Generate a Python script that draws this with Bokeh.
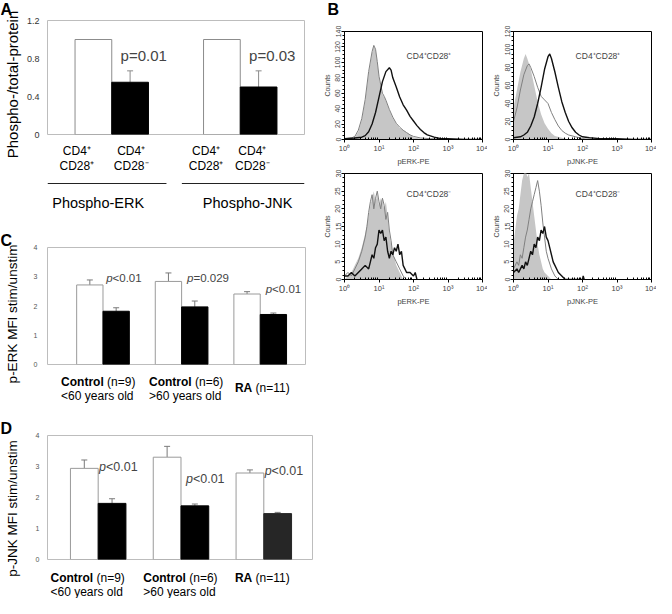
import numpy as np
from bokeh.plotting import figure
from bokeh.layouts import row, column
from bokeh.models import (Range1d, FixedTicker, SingleIntervalTicker, Label,
                          Whisker, TeeHead, ColumnDataSource)
from bokeh.embed import file_html
from bokeh.resources import INLINE
from bokeh.core.properties import value

FONT = "Liberation Sans"
DEBUG = False

# ---------------- DATA ----------------
a_groups = ["Phospho-ERK", "Phospho-JNK"]
a_subsets = ["CD4⁺\nCD28⁺", "CD4⁺\nCD28⁻"]
a_pos_vals = [1.0, 1.0]
a_neg_vals = [0.55, 0.50]
a_neg_err_top = [0.67, 0.67]
a_pvalues = ["p=0.01", "p=0.03"]
a_yticks = [0, 0.4, 0.8, 1.2]
a_ytick_labels = ["0", "0.4", "0.8", "1.2"]

cd_bold = ["Control", "Control", "RA"]
cd_n = ["(n=9)", "(n=6)", "(n=11)"]
cd_age = ["<60 years old", ">60 years old", ""]

c_white = [2.72, 2.84, 2.41]
c_white_err = [2.89, 3.13, 2.49]
c_black = [1.82, 1.97, 1.71]
c_black_err = [1.94, 2.17, 1.76]
c_p = ["<0.01", "=0.029", "<0.01"]

d_white = [2.94, 3.30, 2.79]
d_white_err = [3.21, 3.65, 2.89]
d_black = [1.81, 1.73, 1.48]
d_black_err = [1.96, 1.79, 1.52]
d_p = ["<0.01", "<0.01", "<0.01"]

y_labels = ["Phospho-/total-protein", "p-ERK MFI stim/unstim", "p-JNK MFI stim/unstim"]
panel_letters = ["A", "B", "C", "D"]

decades = [1, 10, 100, 1000, 10000]
decade_labels = ["10⁰", "10¹", "10²", "10³", "10⁴"]

b1_fill_lx = [0.0, 0.2, 0.3, 0.4, 0.5, 0.6, 0.7, 0.8, 0.85, 0.9, 0.95, 1.0, 1.1, 1.15, 1.2, 1.3, 1.4, 1.5, 1.6, 1.7, 1.8, 1.9, 2.0, 2.2, 2.5]
b1_fill_y = [0, 1, 3, 10, 25, 50, 85, 112, 121, 116, 100, 80, 58, 55, 50, 38, 28, 20, 15, 12, 9, 6, 3, 1, 0]
b1_gray_lx = [0.0, 0.2, 0.3, 0.4, 0.5, 0.6, 0.7, 0.8, 0.85, 0.9, 0.95, 1.0, 1.1, 1.15, 1.2, 1.3, 1.4, 1.5, 1.6, 1.7, 1.8, 1.9, 2.0, 2.2, 2.5, 3.0, 4.0]
b1_gray_y = [1, 2, 4, 12, 27, 52, 88, 114, 122, 117, 101, 82, 60, 56, 51, 39, 29, 21, 16, 12, 9, 6, 4, 2, 1, 0, 0]
b1_black_lx = [0.0, 0.3, 0.5, 0.6, 0.7, 0.8, 0.9, 1.0, 1.1, 1.2, 1.3, 1.35, 1.4, 1.5, 1.6, 1.7, 1.8, 1.9, 2.0, 2.1, 2.2, 2.3, 2.4, 2.6, 2.8, 3.0, 3.5, 4.0]
b1_black_y = [1, 2, 3, 5, 10, 20, 35, 55, 75, 88, 93, 90, 80, 68, 55, 45, 38, 30, 24, 18, 13, 9, 6, 3, 1, 1, 0, 0]

b2_fill_lx = [0.0, 0.1, 0.2, 0.3, 0.35, 0.4, 0.5, 0.6, 0.7, 0.8, 0.9, 1.0, 1.1, 1.2, 1.4, 1.6]
b2_fill_y = [35, 55, 75, 90, 95, 90, 78, 60, 42, 28, 18, 12, 7, 4, 2, 0]
b2_gray_lx = [0.0, 0.1, 0.2, 0.3, 0.4, 0.45, 0.5, 0.6, 0.7, 0.8, 0.9, 1.0, 1.1, 1.2, 1.3, 1.4, 1.5, 1.6, 1.8, 2.0, 2.2, 3.0, 4.0]
b2_gray_y = [20, 35, 55, 72, 82, 84, 80, 70, 58, 48, 44, 40, 30, 22, 15, 10, 7, 5, 3, 1, 0, 0, 0]
b2_black_lx = [0.0, 0.2, 0.3, 0.4, 0.5, 0.6, 0.7, 0.8, 0.9, 1.0, 1.05, 1.1, 1.2, 1.3, 1.4, 1.5, 1.6, 1.7, 1.8, 1.9, 2.0, 2.2, 2.5, 3.0, 3.5, 4.0]
b2_black_y = [2, 3, 5, 8, 15, 25, 40, 58, 78, 92, 95, 90, 75, 58, 42, 30, 20, 13, 8, 5, 3, 2, 1, 1, 0, 0]

b3_fill_lx = [0.0, 0.1, 0.2, 0.3, 0.4, 0.5, 0.6, 0.7, 0.75, 0.8, 0.85, 0.9, 0.95, 1.0, 1.05, 1.1, 1.15, 1.2, 1.25, 1.3, 1.35, 1.4, 1.5, 1.6, 1.7]
b3_fill_y = [0, 1, 2, 4, 6, 9, 13, 18, 21, 23, 25, 22, 24, 21, 23, 22, 20, 22, 18, 13, 10, 8, 4, 2, 0]
b3_gray_lx = [0.0, 0.1, 0.2, 0.3, 0.4, 0.5, 0.6, 0.65, 0.7, 0.75, 0.8, 0.85, 0.9, 0.95, 1.0, 1.05, 1.1, 1.15, 1.2, 1.25, 1.3, 1.35, 1.4, 1.5, 1.6, 1.7, 1.8]
b3_gray_y = [1, 2, 1, 3, 5, 8, 12, 15, 19, 22, 24, 20, 23, 25, 22, 20, 23, 21, 17, 19, 14, 11, 7, 5, 3, 1, 0]
b3_black_lx = [0.0, 0.1, 0.2, 0.3, 0.4, 0.5, 0.6, 0.7, 0.75, 0.8, 0.85, 0.9, 0.95, 1.0, 1.05, 1.1, 1.15, 1.2, 1.25, 1.3, 1.35, 1.4, 1.45, 1.5, 1.55, 1.6, 1.65, 1.7, 1.75, 1.8, 1.9, 2.0, 2.05, 2.1]
b3_black_y = [1, 1, 2, 1, 2, 3, 4, 3, 5, 7, 6, 9, 10, 14, 13, 14, 11, 12, 8, 6, 8, 7, 9, 8, 10, 7, 8, 4, 3, 2, 2, 1, 2, 0]

b4_fill_lx = [0.0, 0.05, 0.1, 0.15, 0.2, 0.25, 0.3, 0.35, 0.4, 0.45, 0.5, 0.55, 0.6, 0.65, 0.7, 0.75, 0.8, 0.85, 0.9, 1.0, 1.1]
b4_fill_y = [10, 14, 18, 20, 24, 28, 30, 31, 29, 30, 26, 22, 18, 14, 10, 7, 5, 3, 2, 1, 0]
b4_gray_lx = [0.0, 0.1, 0.15, 0.2, 0.25, 0.3, 0.35, 0.4, 0.45, 0.5, 0.55, 0.6, 0.65, 0.7, 0.75, 0.8, 0.85, 0.9, 0.95, 1.0, 1.1, 1.2, 1.3]
b4_gray_y = [3, 5, 4, 7, 6, 9, 12, 14, 17, 20, 22, 24, 26, 28, 25, 21, 16, 12, 8, 6, 3, 1, 0]
b4_black_lx = [0.0, 0.1, 0.15, 0.2, 0.25, 0.3, 0.35, 0.4, 0.45, 0.5, 0.55, 0.6, 0.65, 0.7, 0.75, 0.8, 0.85, 0.9, 0.95, 1.0, 1.05, 1.1, 1.15, 1.2, 1.3, 1.4, 1.5, 2.0, 2.02, 2.05]
b4_black_y = [2, 3, 2, 3, 4, 3, 5, 4, 6, 8, 7, 10, 9, 12, 11, 14, 13, 15, 12, 11, 9, 7, 5, 4, 2, 1, 0, 0, 1, 0]

# ---------------- helpers ----------------
_dbg = iter(["#ffe8e8", "#e8ffe8", "#e8e8ff", "#ffffd0", "#ffe0ff", "#e0ffff",
             "#f0e0d0", "#d0f0e0", "#e0d0f0", "#f8f0c0", "#c0f0f8", "#f0c0f8", "#dddddd"])


def mk(fw, fh, xr, yr, left, right, top, bottom, **kw):
    p = figure(frame_width=fw, frame_height=fh, x_range=xr, y_range=yr,
               output_backend="svg", toolbar_location=None,
               min_border_left=left, min_border_right=right,
               min_border_top=top, min_border_bottom=bottom, **kw)
    p.grid.visible = False
    if DEBUG:
        p.border_fill_color = next(_dbg)
    return p


GUT = 22          # left gutter holding panel letters and y-axis titles
LEFT_W = 318      # width of the left column (gutter included)
COL_W = LEFT_W - GUT
TOTAL_H = 598

# ---------------- gutter (letters + y titles) ----------------
gut = mk(GUT, TOTAL_H, Range1d(0, GUT), Range1d(TOTAL_H, 0), 0, 0, 0, 0,
         x_axis_location=None, y_axis_location=None)
gut.outline_line_color = None
gut.text(x=[0, 0, 0], y=[0, 231, 419], text=[panel_letters[0], panel_letters[2], panel_letters[3]],
         text_font=value(FONT), text_font_size="16px", text_font_style="bold",
         text_align="left", text_baseline="top")
gut.text(x=[11.5], y=[84], text=[y_labels[0]], angle=np.pi / 2, text_font=value(FONT),
         text_font_size="15px", text_align="center", text_baseline="middle")
gut.text(x=[11.5, 11.5], y=[313.5, 508], text=y_labels[1:], angle=np.pi / 2, text_font=value(FONT),
         text_font_size="13.5px", text_align="center", text_baseline="middle")

# ---------------- Panel A ----------------
a_fw, a_fh, a_l, a_t = 257, 114, 25, 20
a_r = COL_W - a_l - a_fw
a_xr = Range1d(0, 7)
a = mk(a_fw, a_fh, a_xr, Range1d(0, 1.2), a_l, a_r, a_t, 46)
a.outline_line_color = "#bdbdbd"
xa_pos = [1.25, 4.75]
xa_neg = [2.25, 5.75]
a.vbar(x=xa_pos, top=a_pos_vals, width=1.0, fill_color="white", line_color="#8c8c8c", line_width=1)
a.vbar(x=xa_neg, top=a_neg_vals, width=1.0, fill_color="black", line_color="black", line_width=1)
a.add_layout(Whisker(source=ColumnDataSource(dict(x=xa_neg, lo=a_neg_vals, hi=a_neg_err_top)),
                     base="x", lower="lo", upper="hi", line_color="#8c8c8c", line_width=1,
                     lower_head=None, upper_head=TeeHead(size=6, line_color="#8c8c8c", line_width=1)))
ax = a.xaxis[0]
a_label_pos = [0.80, 2.28, 4.32, 5.58]     # where the subset captions sit under each group
ax.ticker = FixedTicker(ticks=a_label_pos)
ax.major_label_overrides = {x: a_subsets[i % 2] for i, x in enumerate(a_label_pos)}
ax.axis_line_color = None
ax.major_tick_line_color = None
ax.minor_tick_line_color = None
ax.major_tick_out = 0
ax.minor_tick_out = 0
ax.major_label_standoff = 9
ax.major_label_text_font = FONT
ax.major_label_text_font_size = "12px"
ax.major_label_text_line_height = 1.08
ax.major_label_text_color = "black"
ay = a.yaxis[0]
ay.ticker = FixedTicker(ticks=a_yticks)
ay.major_label_overrides = dict(zip(a_yticks, a_ytick_labels))
ay.axis_line_color = None
ay.major_tick_line_color = None
ay.minor_tick_line_color = None
ay.major_tick_out = 0
ay.minor_tick_out = 0
ay.major_label_standoff = 8
ay.major_label_text_font = FONT
ay.major_label_text_font_size = "9px"
ay.major_label_text_color = "#333333"
for i in range(2):
    a.add_layout(Label(x=xa_neg[i] - 0.26, y=0.83, text=a_pvalues[i], text_font=FONT,
                       text_font_size="15px", text_baseline="middle"))

# bracket under panel A (same horizontal geometry / range as panel A)
br = mk(a_fw, 46, a_xr, Range1d(46, 0), a_l, a_r, 0, 0, x_axis_location=None, y_axis_location=None)
br.outline_line_color = None
br.segment(x0=[0.0, 3.66], y0=[3, 3], x1=[3.24, 7.0], y1=[3, 3], line_color="#222222", line_width=1.2)
br.text(x=[1.38, 5.45], y=[22.6, 22.6], text=a_groups, text_font=value(FONT), text_font_size="14.5px",
        text_align="center", text_baseline="middle")


# ---------------- Panels C and D ----------------
def bar_panel(xr, fw, fh, left, top, bottom, white, white_err, black, black_err, black_colors,
              pvals, p_xy, p_size, tick_standoff):
    p = mk(fw, fh, xr, Range1d(0, 4), left, COL_W - left - fw, top, bottom, x_axis_location=None)
    p.outline_line_color = "#bdbdbd"
    g = [1, 2, 3]
    xw = [v - 0.1675 for v in g]
    xb = [v + 0.1675 for v in g]
    p.vbar(x=xw, top=white, width=0.335, fill_color="white", line_color="#9a9a9a", line_width=1)
    p.vbar(x=xb, top=black, width=0.335, fill_color=black_colors, line_color=black_colors, line_width=1)
    src = ColumnDataSource(dict(x=xw + xb, lo=white + black, hi=white_err + black_err))
    p.add_layout(Whisker(source=src, base="x", lower="lo", upper="hi", line_color="#7a7a7a",
                         line_width=1, lower_head=None,
                         upper_head=TeeHead(size=6, line_color="#7a7a7a", line_width=1)))
    ya = p.yaxis[0]
    ya.ticker = SingleIntervalTicker(interval=1, num_minor_ticks=0)
    ya.axis_line_color = None
    ya.major_tick_line_color = None
    ya.minor_tick_line_color = None
    ya.major_tick_out = 0
    ya.minor_tick_out = 0
    ya.major_label_standoff = tick_standoff
    ya.major_label_text_font = FONT
    ya.major_label_text_font_size = "7px"
    ya.major_label_text_color = "#555555"
    psz = float(p_size[:-2])
    for i in range(3):
        px, py = p_xy[i]
        p.add_layout(Label(x=px, y=py, text="p", text_font=FONT, text_font_size=p_size,
                           text_font_style="italic", text_baseline="middle"))
        p.add_layout(Label(x=px, y=py, x_offset=0.556 * psz, text=pvals[i], text_font=FONT,
                           text_font_size=p_size, text_baseline="middle"))
    return p


def group_labels(xr, fw, left, h, label_x, y1, y2, y_ra):
    q = mk(fw, h, xr, Range1d(h, 0), left, COL_W - left - fw, 0, 0,
           x_axis_location=None, y_axis_location=None)
    q.outline_line_color = None
    ys = [y1 if cd_age[i] else y_ra for i in range(3)]
    bold_w = [46, 46, 20.6]
    q.text(x=label_x, y=ys, text=cd_bold, text_font=value(FONT), text_font_size="12px",
           text_font_style="bold", text_baseline="middle")
    q.text(x=label_x, y=ys, x_offset=bold_w, text=cd_n, text_font=value(FONT), text_font_size="12px",
           text_baseline="middle")
    q.text(x=label_x, y=[y2] * 3, text=cd_age, text_font=value(FONT), text_font_size="12px",
           text_baseline="middle")
    return q


c_xr = Range1d(0.294, 3.576)
c = bar_panel(c_xr, 258, 117, 20, 21, 10, c_white, c_white_err, c_black, c_black_err,
              ["black", "black", "black"], c_p,
              [(1.04, 2.97), (2.07, 2.97), (3.07, 2.57)], "11.5px", 10)
c_lab = group_labels(c_xr, 258, 20, 30, [0.467, 1.585, 2.678], 7.8, 21.4, 13.7)

d_xr = Range1d(0.388, 3.588)
d = bar_panel(d_xr, 265, 124, 17, 31, 8, d_white, d_white_err, d_black, d_black_err,
              ["black", "black", "#262626"], d_p,
              [(1.01, 3.0), (2.06, 2.59), (3.01, 2.84)], "12.5px", 8)
d_lab = group_labels(d_xr, 265, 17, 31, [0.424, 1.544, 2.651], 10.6, 24.2, 10.6)


# ---------------- Panel B ----------------
minor = [m * 10 ** k for k in range(4) for m in range(2, 10)]
B_W = 338

bhead = mk(B_W, 20, Range1d(0, B_W), Range1d(20, 0), 0, 0, 0, 0,
           x_axis_location=None, y_axis_location=None)
bhead.outline_line_color = None
bhead.text(x=[9], y=[0], text=[panel_letters[1]], text_font=value(FONT), text_font_size="16px",
           text_font_style="bold", text_align="left", text_baseline="top")


def hist_panel(fill_lx, fill_y, gray_lx, gray_y, black_lx, black_y, ymax, yint,
               xlabel, subset, sub_dy, top_b, frame_h, bot_b):
    p = figure(frame_width=138, frame_height=frame_h, x_axis_type="log",
               x_range=Range1d(1, 10000), y_range=Range1d(0, ymax),
               output_backend="svg", toolbar_location=None,
               min_border_left=26, min_border_right=5,
               min_border_top=top_b, min_border_bottom=bot_b)
    p.grid.visible = False
    if DEBUG:
        p.border_fill_color = next(_dbg)
    p.outline_line_color = "black"
    p.outline_line_width = 1
    p.varea(x=10 ** np.array(fill_lx), y1=0, y2=fill_y, fill_color="#c6c6c6")
    p.line(10 ** np.array(gray_lx), gray_y, line_color="#808080", line_width=1)
    p.line(10 ** np.array(black_lx), black_y, line_color="#111111", line_width=1.4)
    xa = p.xaxis[0]
    xa.ticker = FixedTicker(ticks=decades, minor_ticks=minor)
    xa.major_label_overrides = dict(zip(decades, decade_labels))
    xa.major_label_text_font = FONT
    xa.major_label_text_font_size = "7.5px"
    xa.major_label_standoff = 1
    xa.major_tick_out = 3
    xa.major_tick_in = 0
    xa.minor_tick_out = 0
    xa.minor_tick_in = 2
    xa.axis_label = xlabel
    xa.axis_label_text_font = FONT
    xa.axis_label_text_font_size = "7.5px"
    xa.axis_label_text_font_style = "normal"
    xa.axis_label_standoff = 1
    ya = p.yaxis[0]
    ya.ticker = SingleIntervalTicker(interval=yint, num_minor_ticks=4)
    ya.major_label_orientation = "vertical"
    ya.major_label_text_font = FONT
    ya.major_label_text_font_size = "7px"
    ya.major_label_standoff = 1
    ya.major_tick_out = 3
    ya.major_tick_in = 0
    ya.minor_tick_out = 2
    ya.minor_tick_in = 0
    ya.axis_label = "Counts"
    ya.axis_label_text_font = FONT
    ya.axis_label_text_font_size = "7px"
    ya.axis_label_text_font_style = "normal"
    ya.axis_label_standoff = 2
    p.add_layout(Label(x=10 ** 1.8, y=ymax * (1 - sub_dy / frame_h), text=subset, text_font=FONT,
                       text_font_size="8.5px", text_baseline="middle"))
    return p


b1 = hist_panel(b1_fill_lx, b1_fill_y, b1_gray_lx, b1_gray_y, b1_black_lx, b1_black_y, 140, 20,
                "pERK-PE", "CD4⁺CD28⁺", 24, 11, 108, 28)
b2 = hist_panel(b2_fill_lx, b2_fill_y, b2_gray_lx, b2_gray_y, b2_black_lx, b2_black_y, 120, 20,
                "pJNK-PE", "CD4⁺CD28⁺", 24, 11, 108, 28)
b3 = hist_panel(b3_fill_lx, b3_fill_y, b3_gray_lx, b3_gray_y, b3_black_lx, b3_black_y, 30, 5,
                "pERK-PE", "CD4⁺CD28⁻", 20, 5, 106, 26)
b4 = hist_panel(b4_fill_lx, b4_fill_y, b4_gray_lx, b4_gray_y, b4_black_lx, b4_black_y, 30, 5,
                "pJNK-PE", "CD4⁺CD28⁻", 20, 5, 106, 26)

layout = row(gut, column(a, br, c, c_lab, d, d_lab), column(bhead, row(b1, b2), row(b3, b4)))

open("out.html", "w").write(file_html(layout, INLINE))
